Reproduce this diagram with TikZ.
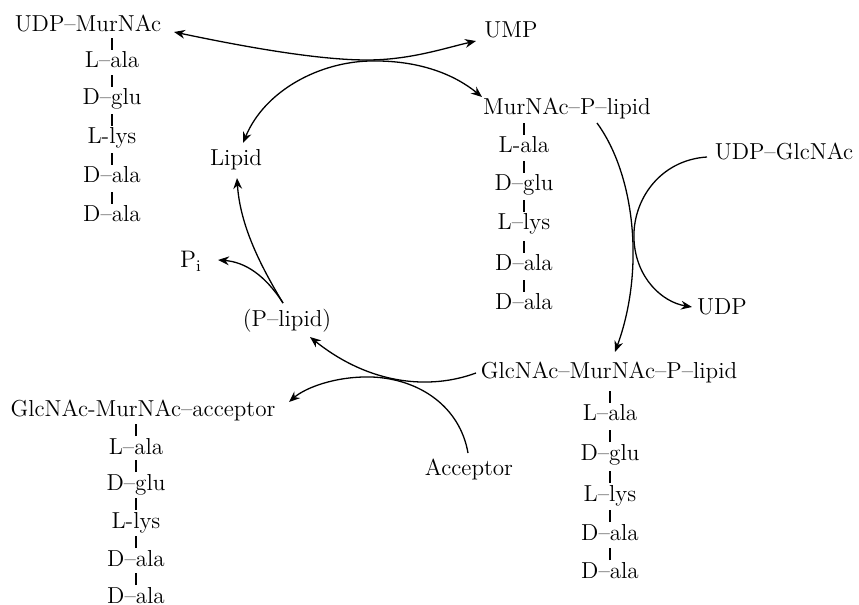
\documentclass[tikz,border=0pt]{standalone}
\usetikzlibrary{arrows.meta}
\tikzset{
  lbl/.style={anchor=base, inner sep=1pt, font=\fontsize{11.6}{13.5}\selectfont},
  bar/.style={line width=0.75pt},
  rxn/.style={line width=0.65pt},
  tip/.style={-{Stealth[length=5.5pt,width=4.4pt,inset=1.8pt]}},
  tips/.style={{Stealth[length=5.5pt,width=4.4pt,inset=1.8pt]}-{Stealth[length=5.5pt,width=4.4pt,inset=1.8pt]}},
}
\newcommand{\nd}{\textendash}
\begin{document}
\begin{tikzpicture}[x=0.5bp,y=-0.5bp]
\useasboundingbox (0,0) rectangle (859,605);
\clip (0,0) rectangle (859,605);

% ---- column 1: UDP-MurNAc
\node[lbl] (udpm) at (88,32) {UDP\nd MurNAc};
\node[lbl] (a1) at (112,68)  {L\nd ala};
\node[lbl] (a2) at (112,105) {D\nd glu};
\node[lbl] (a3) at (112,144) {L-lys};
\node[lbl] (a4) at (112,183) {D\nd ala};
\node[lbl] (a5) at (112,222) {D\nd ala};
\foreach \n in {a1,a2,a3,a4,a5} \draw[bar] (\n.base) ++(0,-18) -- ++(0,-12);

% ---- column 2: MurNAc-P-lipid
\node[lbl] (mpl) at (567,115) {MurNAc\nd P\nd lipid};
\node[lbl] (b1) at (524,153) {L-ala};
\node[lbl] (b2) at (524,191) {D\nd glu};
\node[lbl] (b3) at (524,230) {L\nd lys};
\node[lbl] (b4) at (524,271) {D\nd ala};
\node[lbl] (b5) at (524,310) {D\nd ala};
\foreach \n in {b1,b2,b3,b4,b5} \draw[bar] (\n.base) ++(0,-18) -- ++(0,-12);

% ---- column 3: GlcNAc-MurNAc-P-lipid
\node[lbl] (gmpl) at (609,379) {GlcNAc\nd MurNAc\nd P\nd lipid};
\node[lbl] (c1) at (610,421) {L\nd ala};
\node[lbl] (c2) at (610,460) {D\nd glu};
\node[lbl] (c3) at (610,501) {L\nd lys};
\node[lbl] (c4) at (610,540) {D\nd ala};
\node[lbl] (c5) at (610,578) {D\nd ala};
\foreach \n in {c1,c2,c3,c4,c5} \draw[bar] (\n.base) ++(0,-18) -- ++(0,-12);

% ---- column 4: GlcNAc-MurNAc-acceptor
\node[lbl] (gmacc) at (143,417) {GlcNAc-MurNAc\nd acceptor};
\node[lbl] (d1) at (136,454) {L\nd ala};
\node[lbl] (d2) at (136,490) {D\nd glu};
\node[lbl] (d3) at (136,528) {L-lys};
\node[lbl] (d4) at (136,566) {D\nd ala};
\node[lbl] (d5) at (136,603) {D\nd ala};
\foreach \n in {d1,d2,d3,d4,d5} \draw[bar] (\n.base) ++(0,-18) -- ++(0,-12);

% ---- other species
\node[lbl] (ump)   at (511,38)  {UMP};
\node[lbl] (lipid) at (236,166) {Lipid};
\node[lbl] (udpg)  at (784,160) {UDP\nd GlcNAc};
\node[lbl] (udp)   at (722,315) {UDP};
\node[lbl] (pi)    at (191,268) {$\mathrm{P_i}$};
\node[lbl] (plip)  at (287,327) {(P\nd lipid)};
\node[lbl] (acc)   at (469,475) {Acceptor};

% ---- reactions
% UDP-MurNAc <-> UMP
\draw[rxn,tips] ([shift={(86,0)}]udpm.base)
  .. controls (250,48) and (320,60) .. (367,60)
  .. controls (410,60) and (445,48) .. ([shift={(-35,3)}]ump.base);
% Lipid <-> MurNAc-P-lipid
\draw[rxn,tips] ([shift={(7,-23)}]lipid.base)
  .. controls (265,90) and (320,62) .. (370,61)
  .. controls (420,60) and (455,75) .. ([shift={(-85,-18)}]mpl.base);
% (P-lipid) -> Lipid
\draw[rxn,tip] ([shift={(-4,-24)}]plip.base)
  .. controls (260,265) and (240,225) .. ([shift={(1,12)}]lipid.base);
% (P-lipid) -> Pi
\draw[rxn,tip] ([shift={(-4,-24)}]plip.base)
  .. controls (265,275) and (245,262) .. ([shift={(27,-8)}]pi.base);
% GlcNAc-MurNAc-P-lipid -> (P-lipid)
\draw[rxn,tip] ([shift={(-133,-6)}]gmpl.base)
  .. controls (430,390) and (370,385) .. ([shift={(23,10)}]plip.base);
% Acceptor -> GlcNAc-MurNAc-acceptor
\draw[rxn,tip] ([shift={(-1,-22)}]acc.base)
  .. controls (460,407) and (420,379) .. (372,377)
  .. controls (335,376) and (305,388) .. ([shift={(146,-15)}]gmacc.base);
% MurNAc-P-lipid -> GlcNAc-MurNAc-P-lipid
\draw[rxn,tip] ([shift={(30,8)}]mpl.base)
  .. controls (635,175) and (645,270) .. ([shift={(6,-27)}]gmpl.base);
% UDP-GlcNAc -> UDP
\draw[rxn,tip] ([shift={(-77,-3)}]udpg.base)
  .. controls (660,160) and (632,200) .. (634,240)
  .. controls (636,278) and (662,302) .. ([shift={(-30,-8)}]udp.base);
\end{tikzpicture}
\end{document}
